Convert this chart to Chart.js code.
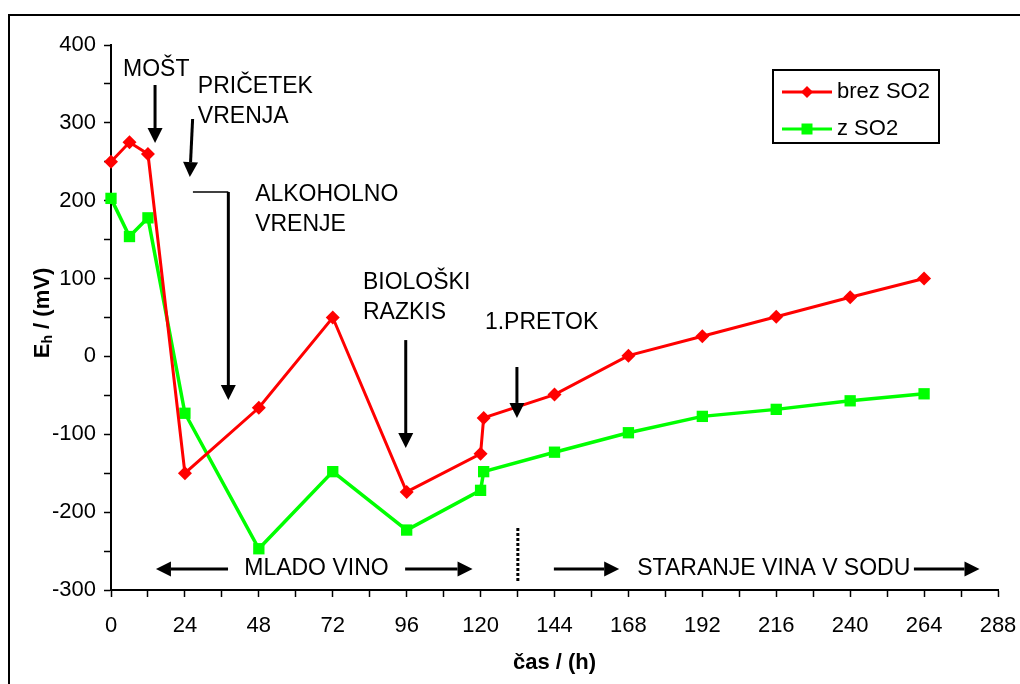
<!DOCTYPE html>
<html>
<head>
<meta charset="utf-8">
<script src="https://cdn.jsdelivr.net/npm/chart.js@4.4.0/dist/chart.umd.min.js"></script>
<style>
  html, body { margin: 0; padding: 0; background: #fff; }
  #wrap { width: 1020px; height: 684px; position: relative; }
</style>
</head>
<body>
<div id="wrap"><canvas id="ehChart" width="1020" height="684"></canvas></div>
<script>
// === DATA ===
const hours   = [0, 6, 12, 24, 48, 72, 96, 120, 121, 144, 168, 192, 216, 240, 264];
const brezSO2 = [250, 275, 260, -150, -66, 50, -174, -125, -79, -49, 1, 26, 51, 76, 100];
const zSO2    = [203, 154, 178, -73, -247, -148, -223, -172, -148, -123, -98, -77, -68, -57, -48];
const seriesNames = ['brez SO2', 'z SO2'];
const xTickLabels = [0, 24, 48, 72, 96, 120, 144, 168, 192, 216, 240, 264, 288];
const yTickLabels = [-300, -200, -100, 0, 100, 200, 300, 400];

const RED = '#ff0000';
const GREEN = '#00ff00';
const FONT = '"Liberation Sans", Arial, Helvetica, sans-serif';

// annotation texts and arrows, in data units (h, mV)
const notes = [
    { text: 'MOŠT', x: 3.9, y: 360 },
    { text: 'PRIČETEK', x: 28.2, y: 338 },
    { text: 'VRENJA', x: 28.2, y: 300 },
    { text: 'ALKOHOLNO', x: 46.8, y: 199.6 },
    { text: 'VRENJE', x: 46.8, y: 161 },
    { text: 'BIOLOŠKI', x: 81.8, y: 86.2 },
    { text: 'RAZKIS', x: 81.8, y: 47.6 },
    { text: '1.PRETOK', x: 121.4, y: 34.8 },
    { text: 'MLADO VINO', x: 66.7, y: -273, center: true },
    { text: 'STARANJE VINA V SODU', x: 215.2, y: -273, center: true }
];
const arrows = [
    [14.3, 348.6, 14.3, 274],
    [26.5, 305, 25.6, 230.4],
    [38.1, 211.2, 38.1, -56],
    [95.7, 21, 95.7, -117.6],
    [131.8, -13.6, 131.8, -79],
    [38, -273, 14.6, -273],
    [95.5, -273, 117.4, -273],
    [143.8, -273, 165, -273],
    [260.7, -273, 282, -273]
];

function toPoints(xs, ys) {
    return xs.map((x, i) => ({ x: x, y: ys[i] }));
}

function drawArrow(ctx, x1, y1, x2, y2) {
    const ang = Math.atan2(y2 - y1, x2 - x1);
    const head = 15, half = 7.5;
    const bx = x2 - head * Math.cos(ang), by = y2 - head * Math.sin(ang);
    ctx.beginPath();
    ctx.moveTo(x1, y1);
    ctx.lineTo(bx, by);
    ctx.lineWidth = 3;
    ctx.stroke();
    ctx.beginPath();
    ctx.moveTo(x2, y2);
    ctx.lineTo(bx + half * Math.sin(ang), by - half * Math.cos(ang));
    ctx.lineTo(bx - half * Math.sin(ang), by + half * Math.cos(ang));
    ctx.closePath();
    ctx.fill();
}

const extrasPlugin = {
    id: 'extras',
    afterDraw(chart) {
        const ctx = chart.ctx;
        const xs = chart.scales.x, ys = chart.scales.y;
        const px = v => xs.getPixelForValue(v);
        const py = v => ys.getPixelForValue(v);
        ctx.save();
        ctx.strokeStyle = '#000';
        ctx.fillStyle = '#000';

        // outer frame (top + left)
        ctx.lineWidth = 2;
        ctx.beginPath();
        ctx.moveTo(9, 684);
        ctx.lineTo(9, 15);
        ctx.lineTo(1020, 15);
        ctx.stroke();

        // annotation texts
        ctx.font = '23px ' + FONT;
        notes.forEach(n => {
            ctx.textAlign = n.center ? 'center' : 'left';
            ctx.textBaseline = n.center ? 'middle' : 'alphabetic';
            ctx.fillText(n.text, px(n.x), py(n.y));
        });

        // arrows
        arrows.forEach(a => drawArrow(ctx, px(a[0]), py(a[1]), px(a[2]), py(a[3])));

        // bracket of ALKOHOLNO VRENJE
        ctx.lineWidth = 1.5;
        ctx.beginPath();
        ctx.moveTo(px(26.6), py(211.2));
        ctx.lineTo(px(38.1), py(211.2));
        ctx.stroke();

        // dashed separator
        ctx.lineWidth = 3;
        ctx.setLineDash([3, 2]);
        ctx.beginPath();
        ctx.moveTo(px(132.1), py(-220.4));
        ctx.lineTo(px(132.1), py(-290));
        ctx.stroke();
        ctx.setLineDash([]);

        // legend
        ctx.lineWidth = 2;
        ctx.strokeRect(773, 70, 166, 73);
        ctx.font = '22px ' + FONT;
        ctx.textAlign = 'left';
        ctx.textBaseline = 'middle';
        [[RED, 92, 'diamond'], [GREEN, 129, 'square']].forEach((s, i) => {
            ctx.strokeStyle = s[0];
            ctx.fillStyle = s[0];
            ctx.lineWidth = 3;
            ctx.beginPath();
            ctx.moveTo(782, s[1]);
            ctx.lineTo(832, s[1]);
            ctx.stroke();
            ctx.beginPath();
            if (s[2] === 'diamond') {
                ctx.moveTo(807, s[1] - 6); ctx.lineTo(813, s[1]);
                ctx.lineTo(807, s[1] + 6); ctx.lineTo(801, s[1]);
                ctx.closePath();
            } else {
                ctx.rect(801.5, s[1] - 5.5, 11, 11);
            }
            ctx.fill();
            ctx.fillStyle = '#000';
            ctx.fillText(seriesNames[i], 837, s[1]);
        });

        // axis titles
        ctx.fillStyle = '#000';
        ctx.font = 'bold 22px ' + FONT;
        ctx.textAlign = 'center';
        ctx.textBaseline = 'middle';
        ctx.fillText('čas / (h)', (chart.chartArea.left + chart.chartArea.right) / 2, 663);

        ctx.translate(41, 313);
        ctx.rotate(-Math.PI / 2);
        ctx.textAlign = 'left';
        ctx.textBaseline = 'alphabetic';
        const bigFont = 'bold 22px ' + FONT, subFont = 'bold 14px ' + FONT;
        ctx.font = bigFont;
        const wE = ctx.measureText('E').width;
        const wRest = ctx.measureText(' / (mV)').width;
        ctx.font = subFont;
        const wH = ctx.measureText('h').width;
        const x0 = -(wE + wH + wRest) / 2;
        ctx.font = bigFont;
        ctx.fillText('E', x0, 8);
        ctx.font = subFont;
        ctx.fillText('h', x0 + wE, 11);
        ctx.font = bigFont;
        ctx.fillText(' / (mV)', x0 + wE + wH, 8);
        ctx.restore();
    }
};

Chart.defaults.font.family = FONT;
Chart.defaults.font.size = 22;
Chart.defaults.color = '#000';

new Chart(document.getElementById('ehChart').getContext('2d'), {
    type: 'line',
    data: {
        datasets: [{
            label: seriesNames[0],
            data: toPoints(hours, brezSO2),
            borderColor: RED,
            backgroundColor: RED,
            borderWidth: 3,
            pointStyle: 'rectRot',
            pointRadius: 7,
            pointBorderWidth: 0,
            tension: 0,
            clip: false
        }, {
            label: seriesNames[1],
            data: toPoints(hours, zSO2),
            borderColor: GREEN,
            backgroundColor: GREEN,
            borderWidth: 3.5,
            pointStyle: 'rect',
            pointRadius: 8,
            pointBorderWidth: 0,
            tension: 0,
            clip: false
        }]
    },
    options: {
        responsive: false,
        animation: false,
        layout: { padding: { left: 0, top: 45, right: 22, bottom: 0 } },
        plugins: {
            legend: { display: false },
            tooltip: { enabled: false }
        },
        scales: {
            x: {
                type: 'linear',
                min: 0,
                max: 288,
                afterFit: s => { s.height = 94; s.paddingLeft = 0; s.paddingRight = 0; },
                border: { display: true, color: '#000', width: 2 },
                grid: { drawOnChartArea: false, drawTicks: true, tickLength: 7, tickWidth: 1.5, tickColor: '#000' },
                ticks: {
                    stepSize: 12,
                    padding: 16,
                    maxRotation: 0,
                    autoSkip: false,
                    callback: v => xTickLabels.includes(v) ? String(v) : ''
                }
            },
            y: {
                min: -300,
                max: 400,
                afterFit: s => { s.width = 111; s.paddingTop = 0; s.paddingBottom = 0; },
                border: { display: true, color: '#000', width: 2 },
                grid: { drawOnChartArea: false, drawTicks: true, tickLength: 7, tickWidth: 1.5, tickColor: '#000' },
                ticks: {
                    stepSize: 50,
                    padding: 8,
                    autoSkip: false,
                    callback: v => yTickLabels.includes(v) ? String(v) : ''
                }
            }
        }
    },
    plugins: [extrasPlugin]
});
</script>
</body>
</html>
